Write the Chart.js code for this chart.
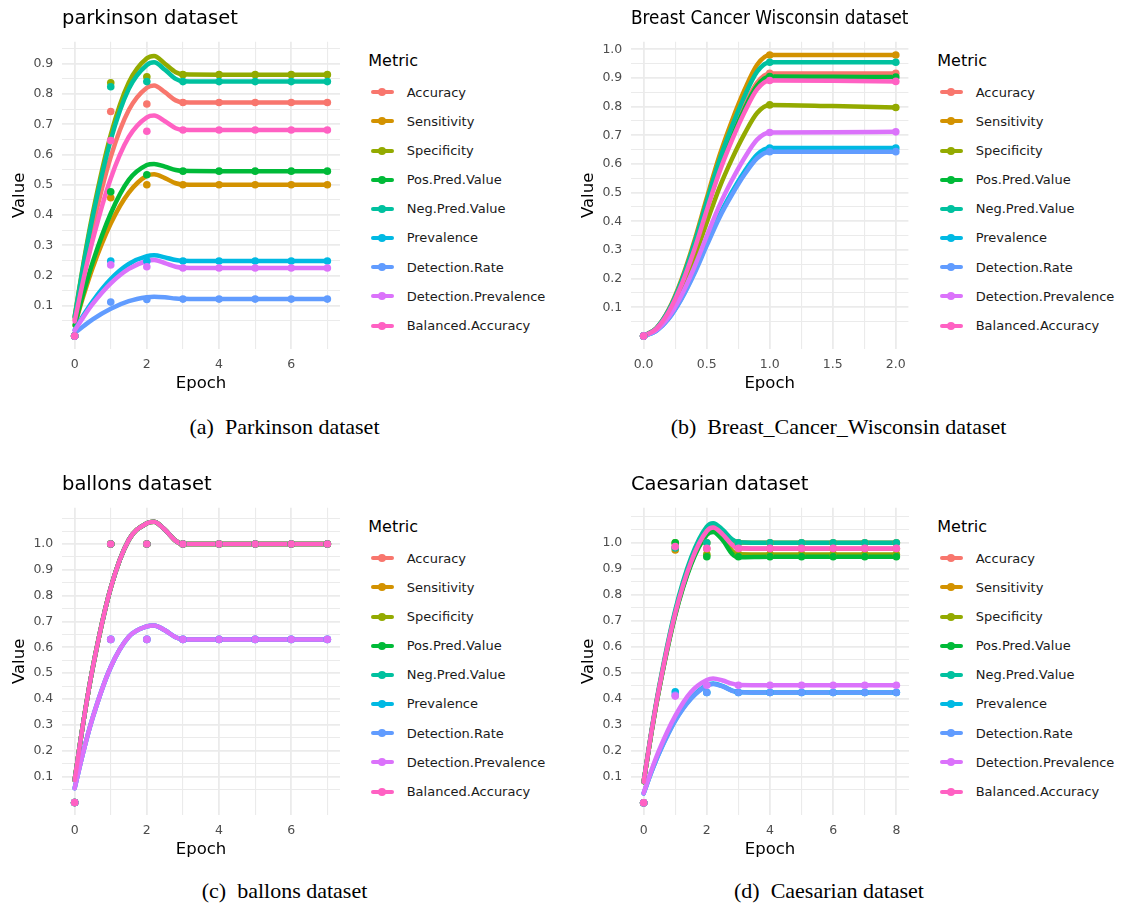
<!DOCTYPE html>
<html><head><meta charset="utf-8">
<script src="https://cdn.jsdelivr.net/npm/chart.js@4.4.1/dist/chart.umd.min.js"></script>
<style>
html,body{margin:0;padding:0;background:#fff;}
#root{position:relative;width:1121px;height:906px;overflow:hidden;background:#fff;}
canvas{position:absolute;}
.lg-title{position:absolute;font-family:'DejaVu Sans';font-size:16px;line-height:20px;color:#000;white-space:nowrap;}
.lg-text{position:absolute;font-family:'DejaVu Sans';font-size:13px;line-height:20px;color:#1a1a1a;white-space:nowrap;}
.lg-line{position:absolute;height:4px;border-radius:2px;}
.lg-dot{position:absolute;width:8px;height:8px;border-radius:50%;}
.cap{position:absolute;font-family:'Liberation Serif';font-size:22px;line-height:26px;color:#000;white-space:pre;transform:translateX(-50%);}
</style></head><body><div id="root"></div>
<script>
// ---------- shared ----------
const metrics = ['Accuracy','Sensitivity','Specificity','Pos.Pred.Value','Neg.Pred.Value','Prevalence','Detection.Rate','Detection.Prevalence','Balanced.Accuracy'];
const metricColors = ['#F8766D','#D39200','#93AA00','#00BA38','#00C19F','#00B9E3','#619CFF','#DB72FB','#FF61C3'];

// ---------- (a) parkinson ----------
const parkTitle = 'parkinson dataset';
const parkEpochs = [0,1,2,3,4,5,6,7];
const parkPoints = [
  [0,0.742,0.767,0.772,0.772,0.772,0.772,0.772],
  [0,0.457,0.500,0.500,0.500,0.500,0.500,0.500],
  [0,0.837,0.857,0.864,0.864,0.864,0.864,0.864],
  [0,0.477,0.533,0.545,0.545,0.545,0.545,0.545],
  [0,0.824,0.841,0.841,0.841,0.841,0.841,0.841],
  [0,0.248,0.248,0.248,0.248,0.248,0.248,0.248],
  [0,0.112,0.121,0.122,0.122,0.122,0.122,0.122],
  [0,0.235,0.229,0.225,0.225,0.225,0.225,0.225],
  [0,0.646,0.677,0.681,0.681,0.681,0.681,0.681]
];
const parkCurveEpochs = [0,0.25,0.5,1,1.5,2,2.2,2.5,2.8,3,4,5,6,7];
const parkCurves = [
  [0.054,0.216,0.360,0.592,0.747,0.821,0.828,0.806,0.779,0.773,0.772,0.772,0.772,0.772],
  [0.034,0.135,0.226,0.372,0.474,0.530,0.535,0.522,0.505,0.501,0.500,0.500,0.500,0.500],
  [0.064,0.245,0.405,0.665,0.838,0.918,0.926,0.900,0.872,0.865,0.864,0.864,0.864,0.864],
  [0.036,0.145,0.244,0.405,0.516,0.565,0.569,0.560,0.549,0.546,0.545,0.545,0.545,0.545],
  [0.062,0.238,0.394,0.648,0.817,0.896,0.905,0.880,0.850,0.842,0.841,0.841,0.841,0.841],
  [0.020,0.070,0.115,0.188,0.238,0.264,0.267,0.260,0.251,0.249,0.248,0.248,0.248,0.248],
  [0.010,0.033,0.055,0.090,0.115,0.128,0.130,0.128,0.124,0.123,0.122,0.122,0.122,0.122],
  [0.018,0.064,0.106,0.174,0.222,0.248,0.251,0.241,0.229,0.226,0.225,0.225,0.225,0.225],
  [0.048,0.190,0.317,0.521,0.658,0.723,0.729,0.710,0.687,0.682,0.681,0.681,0.681,0.681]
];
const parkXTicks = [0,1,2,3,4,5,6,7];
const parkXLabels = ['0','','2','','4','','6',''];
const parkYTicks = [0.05,0.1,0.15,0.2,0.25,0.3,0.35,0.4,0.45,0.5,0.55,0.6,0.65,0.7,0.75,0.8,0.85,0.9,0.95];
const parkYLabels = ['','0.1','','0.2','','0.3','','0.4','','0.5','','0.6','','0.7','','0.8','','0.9',''];

// ---------- (b) Breast Cancer Wisconsin ----------
const breastTitle = 'Breast Cancer Wisconsin dataset';
const breastEpochs = [0,1,2];
const breastPoints = [
  [0,0.916,0.916],
  [0,0.980,0.980],
  [0,0.806,0.797],
  [0,0.905,0.903],
  [0,0.955,0.955],
  [0,0.656,0.656],
  [0,0.643,0.643],
  [0,0.710,0.712],
  [0,0.891,0.888]
];
const breastCurveEpochs = [0,0.1,0.2,0.3,0.4,0.5,0.6,0.7,0.8,0.9,1.0,1.5,2.0];
const breastCurves = [
  [0,0.026,0.087,0.183,0.307,0.449,0.586,0.701,0.802,0.884,0.916,0.916,0.916],
  [0,0.027,0.093,0.196,0.328,0.480,0.627,0.750,0.858,0.946,0.980,0.980,0.980],
  [0,0.023,0.077,0.161,0.270,0.395,0.516,0.617,0.705,0.778,0.806,0.802,0.797],
  [0,0.025,0.086,0.181,0.303,0.443,0.579,0.692,0.792,0.873,0.905,0.904,0.903],
  [0,0.027,0.091,0.191,0.320,0.468,0.611,0.731,0.836,0.922,0.955,0.955,0.955],
  [0,0.018,0.062,0.131,0.220,0.321,0.420,0.502,0.574,0.633,0.656,0.656,0.656],
  [0,0.018,0.061,0.129,0.215,0.315,0.412,0.492,0.563,0.620,0.643,0.643,0.643],
  [0,0.020,0.067,0.142,0.238,0.348,0.454,0.543,0.621,0.685,0.710,0.711,0.712],
  [0,0.025,0.085,0.178,0.298,0.437,0.570,0.682,0.780,0.860,0.891,0.890,0.888]
];
const breastXTicks = [0,0.25,0.5,0.75,1,1.25,1.5,1.75,2];
const breastXLabels = ['0.0','','0.5','','1.0','','1.5','','2.0'];
const breastYTicks = [0.05,0.1,0.15,0.2,0.25,0.3,0.35,0.4,0.45,0.5,0.55,0.6,0.65,0.7,0.75,0.8,0.85,0.9,0.95,1.0];
const breastYLabels = ['','0.1','','0.2','','0.3','','0.4','','0.5','','0.6','','0.7','','0.8','','0.9','','1.0'];

// ---------- (c) ballons ----------
const ballTitle = 'ballons dataset';
const ballEpochs = [0,1,2,3,4,5,6,7];
const ballPoints = [
  [0,1,1,1,1,1,1,1],
  [0,1,1,1,1,1,1,1],
  [0,1,1,1,1,1,1,1],
  [0,1,1,1,1,1,1,1],
  [0,1,1,1,1,1,1,1],
  [0,0.631,0.631,0.631,0.631,0.631,0.631,0.631],
  [0,0.631,0.631,0.631,0.631,0.631,0.631,0.631],
  [0,0.631,0.631,0.631,0.631,0.631,0.631,0.631],
  [0,1,1,1,1,1,1,1]
];
const ballCurveEpochs = [0,0.25,0.5,1,1.5,2,2.2,2.5,2.8,3,4,5,6,7];
const ballCurves = [
  [0.087,0.319,0.520,0.830,1.016,1.080,1.086,1.055,1.012,1.000,1.000,1.000,1.000,1.000],
  [0.087,0.319,0.520,0.830,1.016,1.080,1.086,1.055,1.012,1.000,1.000,1.000,1.000,1.000],
  [0.087,0.319,0.520,0.830,1.016,1.080,1.086,1.055,1.012,1.000,1.000,1.000,1.000,1.000],
  [0.087,0.319,0.520,0.830,1.016,1.080,1.086,1.055,1.012,1.000,1.000,1.000,1.000,1.000],
  [0.087,0.319,0.520,0.830,1.016,1.080,1.086,1.055,1.012,1.000,1.000,1.000,1.000,1.000],
  [0.055,0.201,0.328,0.524,0.641,0.681,0.685,0.666,0.639,0.631,0.631,0.631,0.631,0.631],
  [0.055,0.201,0.328,0.524,0.641,0.681,0.685,0.666,0.639,0.631,0.631,0.631,0.631,0.631],
  [0.055,0.201,0.328,0.524,0.641,0.681,0.685,0.666,0.639,0.631,0.631,0.631,0.631,0.631],
  [0.087,0.319,0.520,0.830,1.016,1.080,1.086,1.055,1.012,1.000,1.000,1.000,1.000,1.000]
];
const ballXTicks = [0,1,2,3,4,5,6,7];
const ballXLabels = ['0','','2','','4','','6',''];
const ballYTicks = [0.05,0.1,0.15,0.2,0.25,0.3,0.35,0.4,0.45,0.5,0.55,0.6,0.65,0.7,0.75,0.8,0.85,0.9,0.95,1.0,1.05,1.1];
const ballYLabels = ['','0.1','','0.2','','0.3','','0.4','','0.5','','0.6','','0.7','','0.8','','0.9','','1.0','',''];

// ---------- (d) Caesarian ----------
const caesTitle = 'Caesarian dataset';
const caesEpochs = [0,1,2,3,4,5,6,7,8];
const caesPoints = [
  [0,0.983,0.977,0.977,0.977,0.977,0.977,0.977,0.977],
  [0,0.972,1.000,1.000,1.000,1.000,1.000,1.000,1.000],
  [0,1.000,0.955,0.955,0.955,0.955,0.955,0.955,0.955],
  [0,1.000,0.946,0.946,0.946,0.946,0.946,0.946,0.946],
  [0,0.980,1.000,1.000,1.000,1.000,1.000,1.000,1.000],
  [0,0.427,0.424,0.424,0.424,0.424,0.424,0.424,0.424],
  [0,0.414,0.424,0.424,0.424,0.424,0.424,0.424,0.424],
  [0,0.410,0.452,0.452,0.452,0.452,0.452,0.452,0.452],
  [0,0.985,0.978,0.978,0.978,0.978,0.978,0.978,0.978]
];
const caesCurveEpochs = [0,0.25,0.5,1,1.5,2,2.2,2.5,2.8,3,4,5,6,7,8];
const caesCurves = [
  [0.080,0.273,0.445,0.726,0.924,1.043,1.056,1.030,0.990,0.979,0.977,0.977,0.977,0.977,0.977],
  [0.080,0.275,0.448,0.732,0.934,1.055,1.068,1.045,1.010,1.001,1.000,1.000,1.000,1.000,1.000],
  [0.079,0.272,0.443,0.724,0.920,1.036,1.047,1.016,0.968,0.956,0.955,0.955,0.955,0.955,0.955],
  [0.079,0.271,0.441,0.720,0.915,1.030,1.041,1.010,0.957,0.944,0.946,0.946,0.946,0.946,0.946],
  [0.081,0.278,0.453,0.740,0.942,1.062,1.075,1.050,1.013,1.002,1.000,1.000,1.000,1.000,1.000],
  [0.036,0.120,0.195,0.318,0.403,0.452,0.458,0.448,0.431,0.426,0.424,0.424,0.424,0.424,0.424],
  [0.035,0.119,0.193,0.315,0.400,0.450,0.457,0.447,0.430,0.425,0.424,0.424,0.424,0.424,0.424],
  [0.037,0.126,0.205,0.334,0.426,0.472,0.478,0.470,0.458,0.453,0.452,0.452,0.452,0.452,0.452],
  [0.080,0.274,0.446,0.728,0.926,1.045,1.058,1.032,0.992,0.980,0.978,0.978,0.978,0.978,0.978]
];
const caesXTicks = [0,1,2,3,4,5,6,7,8];
const caesXLabels = ['0','','2','','4','','6','','8'];
const caesYTicks = [0.05,0.1,0.15,0.2,0.25,0.3,0.35,0.4,0.45,0.5,0.55,0.6,0.65,0.7,0.75,0.8,0.85,0.9,0.95,1.0,1.05,1.1];
const caesYLabels = ['','0.1','','0.2','','0.3','','0.4','','0.5','','0.6','','0.7','','0.8','','0.9','','1.0','',''];

// ---------- captions ----------
const captions = ['(a)  Parkinson dataset','(b)  Breast_Cancer_Wisconsin dataset','(c)  ballons dataset','(d)  Caesarian dataset'];

// ---------- layout ----------
const root = document.getElementById('root');
const FONT = 'DejaVu Sans';
const CW = 345, CH = 400;

const panels = [
  {title: parkTitle, epochs: parkEpochs, points: parkPoints, curveX: parkCurveEpochs, curves: parkCurves,
   xTicks: parkXTicks, xLabels: parkXLabels, yTicks: parkYTicks, yLabels: parkYLabels,
   xMin: -0.35, xMax: 7.35, yMin: -0.043, yMax: 0.973, left: 0, top: 0, cap: captions[0], capX: 284.5, capY: 428},
  {title: breastTitle, epochs: breastEpochs, points: breastPoints, curveX: breastCurveEpochs, curves: breastCurves,
   xTicks: breastXTicks, xLabels: breastXLabels, yTicks: breastYTicks, yLabels: breastYLabels,
   xMin: -0.1, xMax: 2.1, yMin: -0.0453, yMax: 1.0265, left: 569, top: 0, cap: captions[1], capX: 838.5, capY: 428},
  {title: ballTitle, epochs: ballEpochs, points: ballPoints, curveX: ballCurveEpochs, curves: ballCurves,
   xTicks: ballXTicks, xLabels: ballXLabels, yTicks: ballYTicks, yLabels: ballYLabels,
   xMin: -0.35, xMax: 7.35, yMin: -0.0484, yMax: 1.1404, left: 0, top: 466, cap: captions[2], capX: 284.5, capY: 892},
  {title: caesTitle, epochs: caesEpochs, points: caesPoints, curveX: caesCurveEpochs, curves: caesCurves,
   xTicks: caesXTicks, xLabels: caesXLabels, yTicks: caesYTicks, yLabels: caesYLabels,
   xMin: -0.4, xMax: 8.4, yMin: -0.0473, yMax: 1.1346, left: 569, top: 466, cap: captions[3], capX: 829, capY: 892}
];

function el(cls, css, text) {
  const d = document.createElement('div');
  d.className = cls;
  Object.assign(d.style, css);
  if (text !== undefined) d.textContent = text;
  root.appendChild(d);
  return d;
}

function buildPanel(p) {
  const cv = document.createElement('canvas');
  cv.width = CW; cv.height = CH;
  cv.style.left = p.left + 'px'; cv.style.top = p.top + 'px';
  cv.style.width = CW + 'px'; cv.style.height = CH + 'px';
  root.appendChild(cv);

  const datasets = [];
  metrics.forEach((m, i) => {
    datasets.push({
      label: m + ' (smooth)',
      data: p.curveX.map((x, k) => ({x: x, y: p.curves[i][k]})),
      borderColor: metricColors[i], backgroundColor: metricColors[i],
      borderWidth: 4.5, pointRadius: 0, fill: false,
      cubicInterpolationMode: 'monotone',
      borderCapStyle: 'round', borderJoinStyle: 'round',
      order: 20 - i
    });
  });
  metrics.forEach((m, i) => {
    datasets.push({
      label: m,
      data: p.epochs.map((x, k) => ({x: x, y: p.points[i][k]})),
      showLine: false, pointRadius: 3.8, pointBorderWidth: 0,
      pointBackgroundColor: metricColors[i], borderColor: metricColors[i], backgroundColor: metricColors[i],
      order: 9 - i
    });
  });

  const gridColor = '#EBEBEB';
  new Chart(cv, {
    type: 'line',
    data: {datasets: datasets},
    options: {
      responsive: false, animation: false, events: [],
      layout: {padding: {left: 0, right: 5, top: 0, bottom: 1}},
      plugins: {
        legend: {display: false},
        tooltip: {enabled: false},
        title: {display: true, text: p.title, align: 'start', fullSize: false, color: '#000',
                font: {family: FONT, size: 19.5, weight: 'normal', lineHeight: 1.2},
                padding: {top: 7.7, bottom: 10.6}}
      },
      scales: {
        x: {
          type: 'linear', min: p.xMin, max: p.xMax,
          afterBuildTicks: ax => { ax.ticks = p.xTicks.map(v => ({value: v})); },
          afterFit: s => { s.height = 50; },
          ticks: {autoSkip: false, maxRotation: 0, padding: 8, color: '#4D4D4D',
                  font: {family: FONT, size: 12.5},
                  callback: (v, idx) => p.xLabels[idx]},
          grid: {color: gridColor, drawTicks: false,
                 lineWidth: c => (p.xLabels[c.index] ? 1.8 : 1.1)},
          border: {display: false},
          title: {display: true, text: 'Epoch', color: '#000', font: {family: FONT, size: 16.5},
                  padding: {top: 0, bottom: 5}}
        },
        y: {
          type: 'linear', min: p.yMin, max: p.yMax,
          afterBuildTicks: ax => { ax.ticks = p.yTicks.map(v => ({value: v})); },
          afterFit: s => { s.width = 62; },
          ticks: {autoSkip: false, padding: 8.7, color: '#4D4D4D',
                  font: {family: FONT, size: 12.5},
                  callback: (v, idx) => p.yLabels[idx]},
          grid: {color: gridColor, drawTicks: false,
                 lineWidth: c => (p.yLabels[c.index] ? 1.8 : 1.1)},
          border: {display: false},
          title: {display: true, text: 'Value', color: '#000', font: {family: FONT, size: 16.5},
                  padding: {top: 9.7, bottom: 0}}
        }
      }
    }
  });

  // legend (HTML)
  const chartRight = p.left + CW - 5;
  const lx = chartRight + 28.3;
  const ly = p.top;
  el('lg-title', {left: lx + 'px', top: (ly + 51.2) + 'px'}, 'Metric');
  metrics.forEach((m, i) => {
    const cy = ly + 92.3 + 29.17 * i;
    el('lg-line', {left: (chartRight + 30.7) + 'px', top: (cy - 2) + 'px', width: '23.3px', background: metricColors[i]});
    el('lg-dot', {left: (chartRight + 42.3 - 4) + 'px', top: (cy - 4) + 'px', background: metricColors[i]});
    el('lg-text', {left: (chartRight + 66.7) + 'px', top: (cy - 9.8) + 'px'}, m);
  });

  // caption
  el('cap', {left: p.capX + 'px', top: (p.capY - 13.8) + 'px'}, p.cap);
}

panels.forEach(buildPanel);
</script>
</body></html>
